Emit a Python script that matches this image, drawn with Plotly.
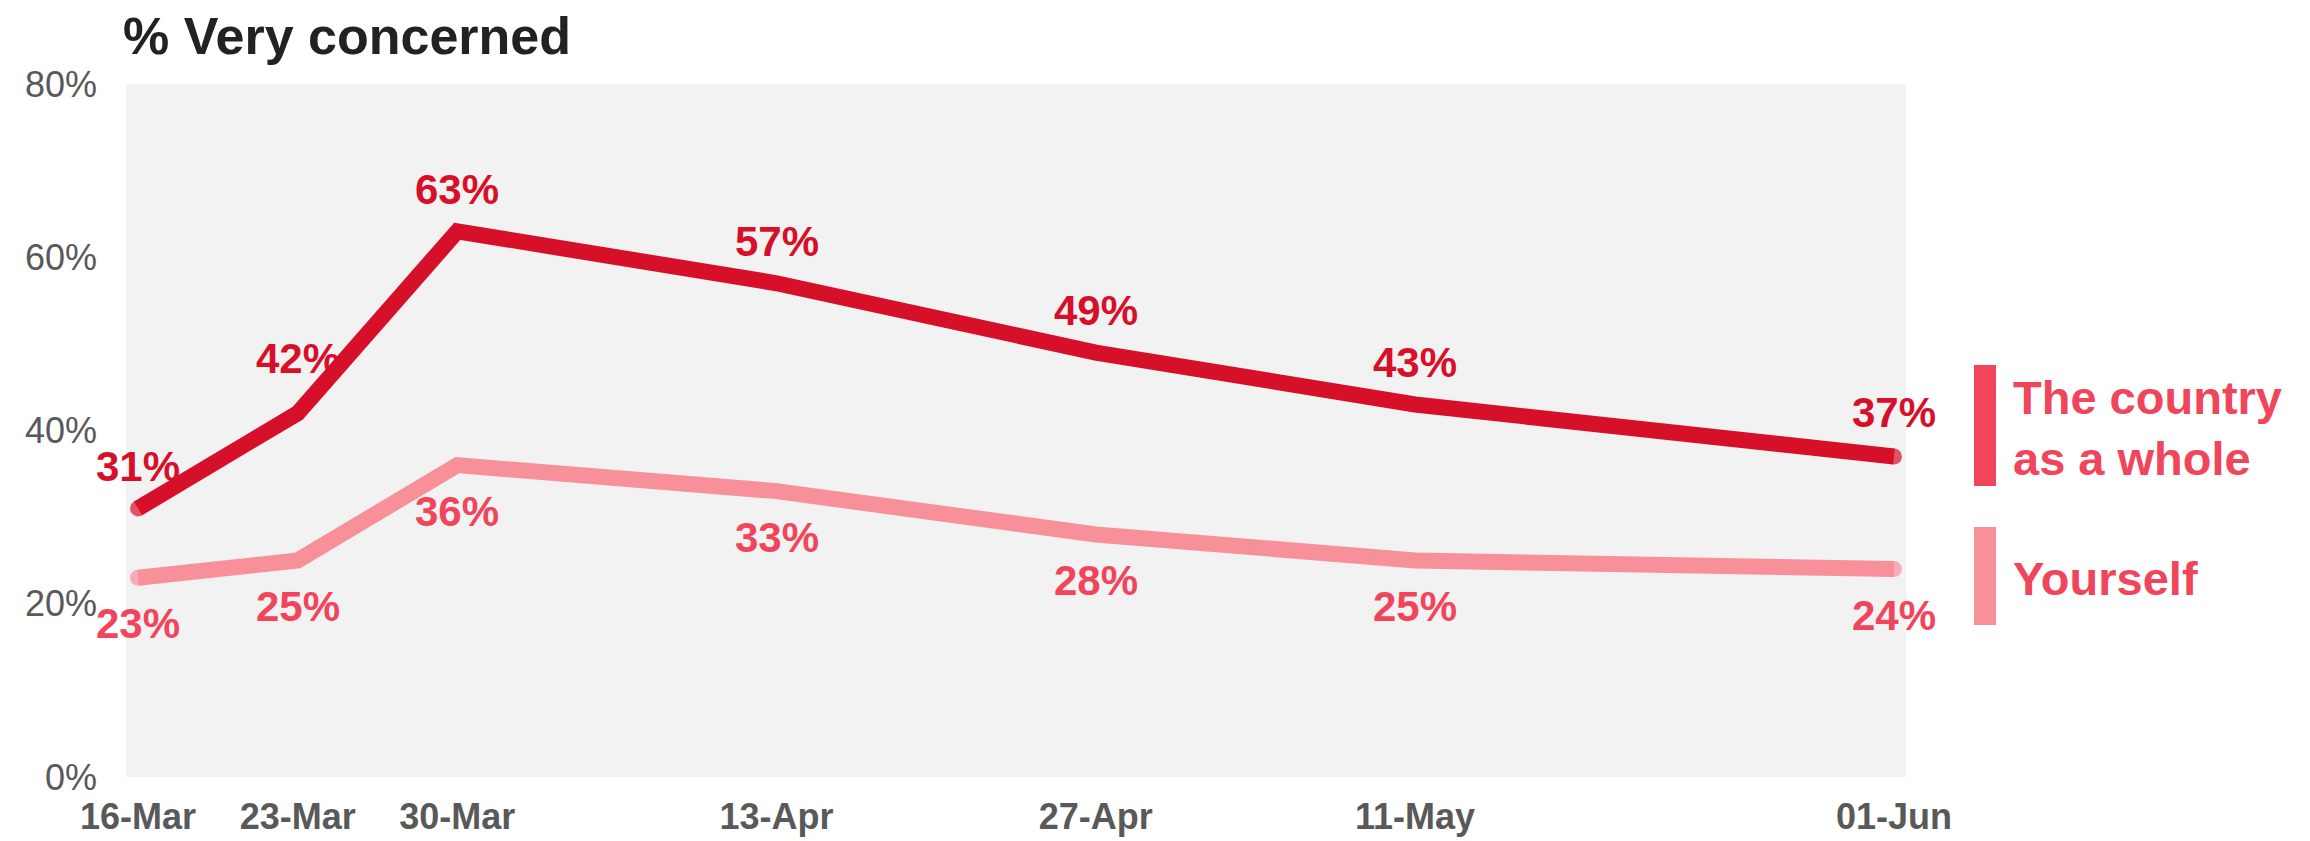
import plotly.graph_objects as go

# ---- data ----
dates = ["2020-03-16", "2020-03-23", "2020-03-30", "2020-04-13", "2020-04-27", "2020-05-11", "2020-06-01"]
tick_labels = ["16-Mar", "23-Mar", "30-Mar", "13-Apr", "27-Apr", "11-May", "01-Jun"]
y_tick_values = [0, 20, 40, 60, 80]
y_tick_labels = ["0%", "20%", "40%", "60%", "80%"]
country = [31, 42, 63, 57, 49, 43, 37]
yourself = [23, 25, 36, 33, 28, 25, 24]
series_names = ["The country<br>as a whole", "Yourself"]
title_text = "% Very concerned"

# ---- styles ----
FONT = "Liberation Sans, Arial, sans-serif"
C_DARK = "#D7102A"
C_PINK_LINE = "#F8909A"
C_PINK_TEXT = "#F0455A"
GRAY_TXT = "#595959"
LW = 16

OFF = 8  # default page body margin
PAGE_W, PAGE_H = 2310, 841
W, H = PAGE_W - OFF, PAGE_H - OFF
# plot area in page pixels
P_L, P_R, P_T, P_B = 126, 1906, 84, 777
ML, MR, MT, MB = P_L - OFF, W - (P_R - OFF), P_T - OFF, H - (P_B - OFF)
PW = W - ML - MR
PH = H - MT - MB

fig = go.Figure()

def end_sizes(n):
    return [LW] + [0] * (n - 2) + [LW]

fig.add_trace(go.Scatter(
    x=dates, y=yourself, mode="lines+markers",
    line=dict(color=C_PINK_LINE, width=LW),
    marker=dict(color=C_PINK_LINE, size=end_sizes(len(dates)), line=dict(width=0)),
    showlegend=False, hoverinfo="skip"))
fig.add_trace(go.Scatter(
    x=dates, y=country, mode="lines+markers",
    line=dict(color=C_DARK, width=LW),
    marker=dict(color=C_DARK, size=end_sizes(len(dates)), line=dict(width=0)),
    showlegend=False, hoverinfo="skip"))

annotations = []
country_shift = [42, 55, 42, 42, 42, 42, 44]
for i, (d, v) in enumerate(zip(dates, country)):
    annotations.append(dict(x=d, y=v, xref="x", yref="y", text=f"{v}%", showarrow=False,
                            yshift=country_shift[i], font=dict(family=FONT, size=42, color=C_DARK, weight="bold")))
for d, v in zip(dates, yourself):
    annotations.append(dict(x=d, y=v, xref="x", yref="y", text=f"{v}%", showarrow=False,
                            yshift=-46, font=dict(family=FONT, size=42, color=C_PINK_TEXT, weight="bold")))

def px_x(px):
    return (px - P_L) / PW

def px_y(py):
    return (P_B - py) / PH

# title
annotations.append(dict(x=px_x(122), y=px_y(36), xref="paper", yref="paper", xanchor="left", yanchor="middle",
                        text=f"<b>{title_text}</b>", showarrow=False, borderpad=0,
                        font=dict(family=FONT, size=52, color="#222222")))

# legend
annotations.append(dict(x=px_x(2011), y=px_y(428), xref="paper", yref="paper", xanchor="left", yanchor="middle",
                        text=f"<b>{series_names[0]}</b>", showarrow=False, align="left",
                        font=dict(family=FONT, size=47, color=C_PINK_TEXT)))
annotations.append(dict(x=px_x(2011), y=px_y(578), xref="paper", yref="paper", xanchor="left", yanchor="middle",
                        text=f"<b>{series_names[1]}</b>", showarrow=False, align="left",
                        font=dict(family=FONT, size=47, color=C_PINK_TEXT)))

shapes = [
    dict(type="rect", xref="paper", yref="paper", x0=px_x(1974), x1=px_x(1996), y0=px_y(486), y1=px_y(365),
         fillcolor=C_PINK_TEXT, line=dict(width=0)),
    dict(type="rect", xref="paper", yref="paper", x0=px_x(1974), x1=px_x(1996), y0=px_y(625), y1=px_y(527),
         fillcolor=C_PINK_LINE, line=dict(width=0)),
]

fig.update_layout(
    width=W, height=H,
    margin=dict(l=ML, r=MR, t=MT, b=MB, pad=0, autoexpand=False),
    paper_bgcolor="white", plot_bgcolor="#F2F2F2",
    annotations=annotations, shapes=shapes,
    font=dict(family=FONT),
)
fig.update_xaxes(type="date", range=["2020-03-15 11:20", "2020-06-01 12:40"],
                 tickvals=dates, ticktext=tick_labels, showgrid=False, zeroline=False,
                 showline=False, ticks="", ticklabelstandoff=15, automargin=False,
                 tickfont=dict(family=FONT, size=36, color=GRAY_TXT, weight="bold"))
fig.update_yaxes(range=[0, 80], tickvals=y_tick_values, ticktext=y_tick_labels,
                 showgrid=False, zeroline=False, showline=False, ticks="", ticklabelstandoff=28,
                 automargin=False,
                 tickfont=dict(family=FONT, size=36, color=GRAY_TXT))

fig.write_html("out.html")
